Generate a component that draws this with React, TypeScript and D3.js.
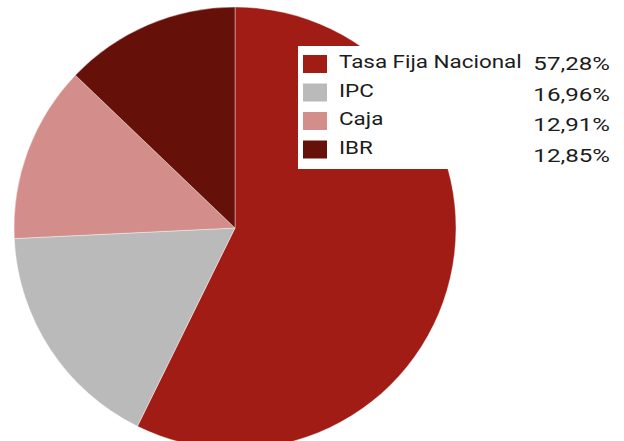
import React, { useLayoutEffect, useRef } from 'react';
import * as d3 from 'd3';

const categories = ['Tasa Fija Nacional', 'IPC', 'Caja', 'IBR'];
const shares = [57.28, 16.96, 12.91, 12.85];
const shareLabels = ['57,28%', '16,96%', '12,91%', '12,85%'];
const colors = ['#A01C15', '#BABABA', '#D38D8A', '#66100A'];

type Slice = { name: string; value: number; color: string };

const width = 624;
const height = 441;

const drawChart = (container: SVGSVGElement) => {
  const svg = d3.select(container);
  svg.selectAll('*').remove();

  const data: Slice[] = categories.map((name, i) => ({
    name,
    value: shares[i],
    color: colors[i],
  }));

  const cx = 235;
  const cy = 228;
  const radius = 221;

  const pie = d3
    .pie<Slice>()
    .sort(null)
    .value((d) => d.value);
  const arc = d3.arc<d3.PieArcDatum<Slice>>().innerRadius(0).outerRadius(radius);

  const chartGroup = svg
    .append('g')
    .classed('chart-group', true)
    .attr('transform', `translate(${cx},${cy})`);

  chartGroup
    .selectAll('path.slice')
    .data(pie(data))
    .enter()
    .append('path')
    .classed('slice', true)
    .attr('d', arc)
    .attr('fill', (d) => d.data.color)
    .attr('stroke', 'rgba(255,255,255,0.5)')
    .attr('stroke-width', 0.8);

  // legend
  const legend = svg.append('g').classed('legend-group', true);
  legend
    .append('rect')
    .attr('x', 298)
    .attr('y', 46)
    .attr('width', width - 298)
    .attr('height', 123)
    .attr('fill', '#ffffff');

  const rowY = d3.scaleLinear().domain([0, 1]).range([55, 83.5]);
  const pctY = d3.scaleLinear().domain([0, 1]).range([70, 100.5]);

  const items = legend
    .selectAll('g.item')
    .data(data)
    .enter()
    .append('g')
    .classed('item', true);

  items
    .append('rect')
    .attr('x', 303)
    .attr('y', (_d, i) => rowY(i))
    .attr('width', 24)
    .attr('height', 18)
    .attr('fill', (d) => d.color);

  // the source image is stretched sideways, so the text is too
  items
    .append('text')
    .attr('transform', (_d, i) => `translate(339,${rowY(i) + 13}) scale(1.18,1)`)
    .attr('font-family', 'Roboto, sans-serif')
    .attr('font-size', 19)
    .attr('fill', '#1c1c1c')
    .text((d) => d.name);

  items
    .append('text')
    .attr('transform', (_d, i) => `translate(610,${pctY(i)}) scale(1.27,1)`)
    .attr('text-anchor', 'end')
    .attr('font-family', 'Roboto, sans-serif')
    .attr('font-size', 19)
    .attr('fill', '#1c1c1c')
    .text((_d, i) => shareLabels[i]);
};

const App: React.FC = () => {
  const rootEl = useRef<SVGSVGElement>(null);

  useLayoutEffect(() => {
    if (rootEl.current) drawChart(rootEl.current);
  }, []);

  return (
    <svg
      ref={rootEl}
      width={width}
      height={height}
      style={{ position: 'absolute', left: 0, top: 0, background: '#fff' }}
    />
  );
};

export default App;
